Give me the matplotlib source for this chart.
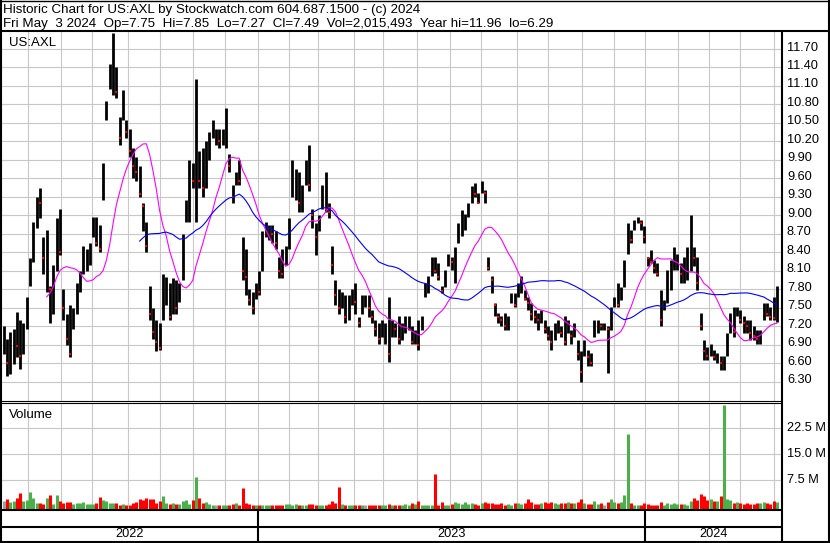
import numpy as np
import pandas as pd
import matplotlib
matplotlib.use("Agg")
import matplotlib.pyplot as plt
from matplotlib.lines import Line2D
from matplotlib.transforms import offset_copy

plt.rcParams['font.family'] = ['Liberation Sans', 'DejaVu Sans']

W, H = 830, 543

header1 = 'Historic Chart for US:AXL by Stockwatch.com 604.687.1500 - (c) 2024'
header2 = 'Fri May  3 2024  Op=7.75  Hi=7.85  Lo=7.27  Cl=7.49  Vol=2,015,493  Year hi=11.96  lo=6.29'
symbol = 'US:AXL'

high = [7.20, 7.00, 7.10, 7.15, 7.43, 7.30, 7.25, 7.68, 8.30, 8.90,
        9.30, 9.45, 8.65, 8.76, 7.85, 8.20, 8.95, 9.10, 7.80, 7.40,
        7.55, 7.50, 7.90, 8.10, 8.50, 8.45, 8.55, 8.98, 8.98, 8.85,
        9.85, 10.85, 11.45, 11.96, 11.40, 10.60, 11.04, 10.55, 10.40, 10.10,
        9.95, 9.80, 9.20, 8.90, 7.85, 7.50, 7.30, 7.25, 8.05, 8.00,
        7.90, 7.98, 7.95, 7.90, 8.70, 9.25, 9.90, 9.85, 11.22, 10.05,
        10.10, 10.20, 10.35, 10.55, 10.40, 10.40, 10.40, 10.75, 10.00, 9.50,
        9.70, 9.90, 8.65, 8.45, 7.80, 7.75, 7.90, 8.10, 8.75, 8.90,
        8.85, 8.85, 8.75,
        8.33, 8.45, 8.50, 8.95, 9.90, 9.75, 9.70, 9.50, 9.90, 10.15,
        9.10, 8.88, 9.00, 9.50, 9.70, 9.20, 8.50, 7.95, 7.80, 7.75,
        7.70, 7.70, 7.80, 7.90, 7.35, 7.70, 7.70, 7.70, 7.46, 7.30,
        7.25, 7.30, 7.25, 7.68, 7.30, 7.25, 7.36, 7.25, 7.36, 7.36,
        7.20, 7.14, 7.30, 7.36, 7.90, 8.01, 8.33, 8.33, 8.22, 7.85,
        8.11, 8.38, 8.33, 8.49, 8.87, 9.09, 9.03, 9.20, 9.47, 9.52,
        9.36, 9.55, 9.41, 8.33, 8.01, 7.57, 7.41, 7.36, 7.41, 7.36,
        7.74, 7.74, 7.90, 8.01, 7.79, 7.68, 7.57, 7.46,
        7.41, 7.46, 7.30, 7.20, 7.14, 7.25, 7.30, 7.20, 7.36, 7.30,
        7.14, 7.25, 6.98, 6.80, 6.98, 6.82, 6.76, 7.30, 7.30, 7.25,
        7.25, 7.20, 7.52, 7.68, 7.90, 7.84, 8.27, 8.87, 8.76, 8.93,
        8.98, 8.93, 8.82, 8.33, 8.44, 8.27, 8.22, 7.79, 7.63, 8.11,
        8.27, 8.49, 8.38, 8.22, 8.33, 8.49, 9.00, 8.49, 8.33, 7.41,
        6.98, 6.87, 6.92, 6.82, 6.76, 6.71, 6.71, 7.09, 7.41, 7.52,
        7.52, 7.46, 7.36, 7.30, 7.30, 7.20, 7.14, 7.14, 7.57, 7.57,
        7.52, 7.68, 7.85]
low = [6.75, 6.40, 6.42, 6.58, 6.70, 6.50, 6.75, 7.15, 7.85, 8.25,
       8.80, 8.95, 8.05, 7.75, 7.25, 7.40, 8.10, 8.35, 7.30, 6.90,
       6.70, 7.15, 7.40, 7.75, 8.05, 8.10, 8.20, 8.65, 8.50, 8.40,
       9.25, 10.55, 11.05, 10.95, 10.90, 10.15, 10.55, 10.25, 9.95, 9.60,
       9.55, 9.30, 8.75, 8.40, 7.30, 7.00, 6.80, 6.82, 7.30, 7.55,
       7.30, 7.40, 7.40, 7.60, 7.95, 8.90, 8.90, 9.45, 8.90, 9.45,
       9.30, 9.45, 9.90, 10.25, 10.15, 10.10, 10.15, 10.10, 9.70, 9.20,
       9.50, 9.50, 7.95, 7.70, 7.55, 7.40, 7.65, 7.70, 8.10, 8.65,
       8.60, 8.55, 8.45,
       7.98, 7.98, 8.20, 8.45, 9.30, 9.25, 9.05, 9.05, 9.50, 9.40,
       8.80, 8.35, 8.75, 9.10, 9.05, 8.95, 8.05, 7.55, 7.40, 7.50,
       7.25, 7.30, 7.55, 7.40, 7.18, 7.40, 7.52, 7.35, 7.25, 7.05,
       6.92, 7.03, 6.92, 6.62, 7.03, 7.03, 6.92, 6.98, 7.09, 7.14,
       6.92, 6.92, 6.82, 7.14, 7.68, 7.74, 8.01, 8.06, 7.95, 7.74,
       7.84, 8.17, 8.11, 7.90, 8.55, 8.66, 8.76, 8.98, 9.20, 9.30,
       9.20, 9.36, 9.20, 8.11, 7.74, 7.36, 7.25, 7.20, 7.14, 7.14,
       7.57, 7.52, 7.68, 7.74, 7.63, 7.46, 7.30, 7.25,
       7.14, 7.25, 7.09, 6.98, 6.82, 6.98, 7.09, 7.03, 6.90, 7.09,
       6.92, 7.03, 6.66, 6.29, 6.71, 6.55, 6.55, 7.03, 7.09, 7.14,
       7.14, 6.44, 7.14, 7.52, 7.52, 7.63, 7.84, 8.38, 8.55, 8.76,
       8.87, 8.76, 8.55, 8.17, 8.22, 8.06, 8.01, 7.20, 7.46, 7.57,
       7.79, 8.11, 8.11, 7.90, 7.90, 7.95, 8.10, 8.17, 7.79, 7.14,
       6.66, 6.66, 6.71, 6.66, 6.60, 6.49, 6.49, 6.71, 7.09, 7.03,
       7.36, 7.25, 7.09, 7.09, 6.98, 6.98, 6.92, 6.92, 7.30, 7.36,
       7.30, 7.30, 7.27]
close = [6.96, 6.60, 6.65, 6.92, 6.88, 6.72, 7.00, 7.55, 8.10, 8.75,
         9.26, 9.20, 8.30, 8.60, 7.80, 8.05, 8.85, 8.40, 7.50, 7.00,
         6.75, 7.40, 7.78, 8.02, 8.25, 8.32, 8.40, 8.85, 8.55, 8.45,
         9.80, 10.78, 11.10, 11.74, 11.00, 10.25, 10.70, 10.35, 10.05, 9.80,
         9.70, 9.35, 9.15, 8.50, 7.40, 7.10, 6.95, 6.85, 7.55, 7.90,
         7.35, 7.90, 7.50, 7.70, 8.65, 9.00, 9.80, 9.55, 10.80, 9.55,
         9.45, 9.60, 10.00, 10.30, 10.30, 10.20, 10.25, 10.30, 9.80, 9.30,
         9.60, 9.55, 8.10, 8.00, 7.62, 7.50, 7.80, 7.75, 8.45, 8.70,
         8.80, 8.70, 8.55,
         8.10, 8.05, 8.30, 8.55, 9.35, 9.60, 9.20, 9.30, 9.80, 9.50,
         9.00, 8.65, 8.95, 9.40, 9.10, 9.05, 8.20, 7.70, 7.50, 7.60,
         7.35, 7.45, 7.70, 7.60, 7.25, 7.55, 7.55, 7.50, 7.35, 7.15,
         7.00, 7.05, 7.10, 6.75, 7.25, 7.15, 7.00, 7.03, 7.15, 7.25,
         6.95, 7.10, 6.90, 7.25, 7.75, 7.80, 8.20, 8.10, 8.00, 7.78,
         7.95, 8.30, 8.25, 8.40, 8.75, 8.80, 8.85, 9.00, 9.40, 9.35,
         9.20, 9.50, 9.36, 8.15, 7.95, 7.55, 7.35, 7.30, 7.20, 7.30,
         7.68, 7.55, 7.68, 7.75, 7.65, 7.57, 7.40, 7.35,
         7.30, 7.40, 7.15, 7.05, 6.95, 7.14, 7.20, 7.09, 6.95, 7.25,
         7.05, 7.10, 6.75, 6.45, 6.85, 6.70, 6.60, 7.20, 7.25, 7.20,
         7.20, 7.15, 7.45, 7.60, 7.55, 7.70, 8.15, 8.80, 8.60, 8.80,
         8.92, 8.87, 8.65, 8.30, 8.25, 8.15, 8.05, 7.30, 7.55, 7.70,
         8.20, 8.25, 8.30, 8.05, 8.10, 8.35, 8.55, 8.30, 7.90, 7.20,
         6.80, 6.72, 6.78, 6.70, 6.72, 6.60, 6.68, 7.00, 7.30, 7.10,
         7.40, 7.30, 7.25, 7.20, 7.09, 7.05, 7.00, 7.05, 7.50, 7.40,
         7.35, 7.33, 7.49]
# millions of shares
volume = [1.5, 1.9, 1.1, 1.4, 2.2, 3.6, 1.4, 1.7, 4.0, 2.3,
          0.7, 0.7, 0.5, 2.2, 3.1, 0.5, 3.1, 1.4, 0.9, 1.0,
          1.1, 0.5, 0.9, 0.7, 1.0, 0.5, 0.6, 0.6, 0.9, 2.5,
          1.7, 1.3, 0.9, 0.8, 0.7, 0.3, 0.5, 0.35, 0.3, 0.9,
          1.1, 2.1, 1.7, 2.2, 1.9, 1.9, 0.9, 1.3, 2.9, 0.7,
          0.5, 0.7, 0.5, 0.4, 1.4, 1.7, 0.5, 1.7, 8.4, 2.2,
          0.9, 1.2, 0.5, 0.25, 0.1, 0.25, 0.1, 0.15, 0.25, 0.5,
          0.7, 0.25, 5.2, 0.9, 0.4, 0.1, 0.15, 0.25, 0.35, 0.25,
          0.25, 0.15, 0.35, 0.25, 0.15, 0.5, 0.6, 0.35, 0.5, 0.35,
          0.25, 0.15, 0.6, 0.4, 0.35, 0.25, 0.15, 0.35, 0.5, 1.5,
          0.9, 5.5, 0.5, 0.25, 0.15, 0.25, 0.35, 0.1, 0.25, 0.15,
          0.25, 0.35, 0.25, 0.35, 0.25, 0.25, 0.5, 0.15, 0.15, 0.25,
          0.35, 0.5, 0.35, 0.7, 0.5, 1.3,
          0.35, 0.15, 0.25, 0.35, 9.2, 0.25, 1.1, 0.25, 0.15, 0.4,
          1.2, 0.7, 0.5, 1.1, 0.5, 0.7, 0.6, 0.15, 0.7, 1.2,
          0.9, 0.7, 0.6, 0.5, 0.7, 0.25, 0.4, 0.15, 0.7, 0.9,
          0.5, 0.9, 2.1, 1.1, 0.5, 0.6, 0.9, 1.1, 0.7, 1.2,
          0.9, 0.5, 0.7, 0.9, 1.0, 0.8, 0.9, 1.1, 1.9, 0.7,
          0.5, 0.5, 1.4, 0.5, 0.9, 0.35, 1.2, 1.9, 1.2, 0.9,
          1.0, 3.0, 20.9, 0.7, 0.25, 0.1, 0.15, 0.7, 0.4, 0.25,
          0.35, 0.15, 1.0, 0.35, 0.7, 0.6, 0.9, 0.5, 0.4, 0.6,
          0.35, 1.5, 2.2, 1.7, 3.3, 2.9, 1.7, 2.1, 1.4, 1.5,
          2.9, 29.3, 1.9, 1.7, 0.7, 1.1, 0.7, 0.5, 0.7, 0.5,
          0.6, 0.9, 0.9, 1.1, 0.7, 0.5, 1.4, 1.0]

price_ticks = [6.30, 6.60, 6.90, 7.20, 7.50, 7.80, 8.10, 8.40, 8.70, 9.00,
               9.30, 9.60, 9.90, 10.20, 10.50, 10.80, 11.10, 11.40, 11.70]
vol_ticks = [7.5, 15.0, 22.5]
vol_labels = ['7.5 M', '15.0 M', '22.5 M']

holidays = ['2022-05-30', '2022-06-20', '2022-07-04', '2022-09-05', '2022-11-24',
            '2022-12-26', '2023-01-02', '2023-01-16', '2023-02-20', '2023-04-07',
            '2023-05-29', '2023-06-19', '2023-07-04', '2023-09-04', '2023-11-23',
            '2023-12-25', '2024-01-01', '2024-01-15', '2024-02-19', '2024-03-29']
days = pd.bdate_range('2022-05-06', '2024-05-03', freq='C', holidays=holidays)

FAST = 14   # ~30 trading days at this sampling
SLOW = 42   # ~90 trading days

GRID = '#c8c8c8'
GREEN = '#4cb04a'


def box(l, t, r, b):
    return [l / W, 1 - b / H, (r - l) / W, (b - t) / H]


def line(x0, y0, x1, y1, lw):
    fig.add_artist(Line2D([x0 / W, x1 / W], [1 - y0 / H, 1 - y1 / H],
                          transform=fig.transFigure, color='black', lw=lw,
                          solid_capstyle='butt'))


fig = plt.figure(figsize=(W / 100, H / 100), dpi=100)
ax = fig.add_axes(box(2, 32, 781, 401))
axv = fig.add_axes(box(2, 403.5, 781, 509.5), sharex=ax)
axd = fig.add_axes(box(2, 510, 781, 541), sharex=ax)
for a in (ax, axv, axd):
    a.axis('off')

close_a = np.array(close)
x = np.linspace(1, len(days) - 1, len(close))
ax.set_xlim(0, len(days) + 1.6)
ax.set_ylim(5.987, 11.976)

month_idx = [i for i in range(1, len(days)) if days[i].month != days[i - 1].month]
year_idx = [i for i in range(1, len(days)) if days[i].year != days[i - 1].year]

for t in price_ticks:
    ax.axhline(t, color=GRID, lw=0.8, zorder=0)
for i in month_idx:
    ax.axvline(i, color=GRID, lw=0.8, zorder=0)
    axv.axvline(i, color=GRID, lw=0.8, zorder=0)

# price bars
ax.vlines(x, low, high, color='black', lw=2.0, zorder=2)
down = np.r_[False, close_a[1:] < close_a[:-1]]
ax.plot(x[down], close_a[down], 's', color='red', ms=1.6, mew=0, zorder=3)

ma_fast = pd.Series(close_a).rolling(FAST).mean()
ma_slow = pd.Series(close_a).rolling(SLOW).mean()
ax.plot(x, ma_fast, color='#ff00ff', lw=0.8, zorder=4)
ax.plot(x, ma_slow, color='#0000ff', lw=0.8, zorder=4)

lab_tr = offset_copy(ax.get_yaxis_transform(), fig=fig, y=1.5, units='dots')
for t in price_ticks:
    ax.text(1.0077, t, '%.2f' % t, transform=lab_tr, ha='left', va='center',
            fontsize=9.2, clip_on=False)

# volume
vbot, vtop = -1.07, 29.7
axv.set_ylim(vbot, vtop)
for t in vol_ticks:
    axv.axhline(t, color=GRID, lw=0.8, zorder=0)
xv = np.linspace(1, len(days) - 1, len(volume))
ci = np.round(np.linspace(0, len(close) - 1, len(volume))).astype(int)
chg = np.r_[0, np.diff(close_a)][ci]
vcol = np.where(chg > 0, GREEN, np.where(chg < 0, 'red', '#a0a0a0'))
axv.vlines(xv, vbot, volume, colors=vcol, lw=2.2, zorder=2)
for t, s in zip(vol_ticks, vol_labels):
    axv.text(1.0077, t, s, transform=axv.get_yaxis_transform(), ha='left',
             va='center', fontsize=9.2, clip_on=False)

# date strip
axd.set_ylim(0, 1)
for i in year_idx:
    axd.axvline(i, color='black', lw=1.5)
edges = [0] + year_idx + [len(days) + 1.6]
for k in range(len(edges) - 1):
    axd.text((edges[k] + edges[k + 1]) / 2, 0.226, str(days[min(edges[k], len(days) - 1)].year),
             ha='center', va='center', fontsize=9.2)

# frame
line(0, 0.5, W, 0.5, 1.0)
line(0.8, 0, 0.8, H, 1.5)
line(W - 0.8, 0, W - 0.8, H, 1.5)
line(0, H - 1.2, W, H - 1.2, 1.5)
line(0, 31, W, 31, 1.5)
line(781.8, 31, 781.8, H, 1.5)
line(0, 401, 781.8, 401, 0.8)
line(0, 403, 781.8, 403, 0.8)
line(0, 510, 781.8, 510, 1.5)
line(0, 526.5, 781.8, 526.5, 1.5)

fig.text(2.5 / W, 1 - 13 / H, header1, fontsize=9.6, va='baseline')
fig.text(2.5 / W, 1 - 27.5 / H, header2, fontsize=9.6, va='baseline')
fig.text(9.3 / W, 1 - 45.7 / H, symbol, fontsize=9.5, va='baseline')
fig.text(9.3 / W, 1 - 418.3 / H, 'Volume', fontsize=9.5, va='baseline')

fig.savefig('out.png', dpi=100)
